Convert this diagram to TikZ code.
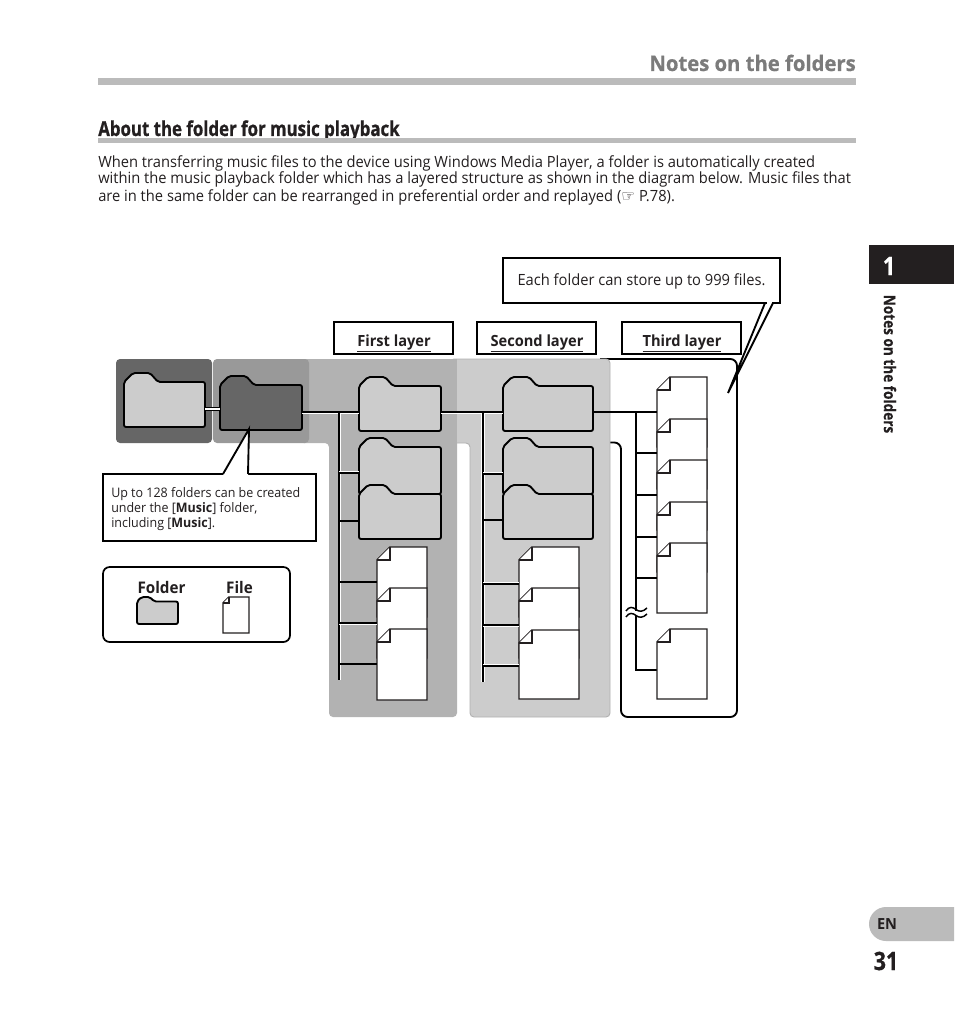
\documentclass[tikz,border=0pt]{standalone}
\usepackage{fontspec}
\usetikzlibrary{fit,calc}
\setmainfont[FakeStretch=0.95]{Open Sans}
\newfontfamily\condfont[FakeStretch=0.85,FakeBold=0.5]{Open Sans Bold}
\newfontfamily\titlefont[FakeStretch=0.95,FakeBold=0.6]{Open Sans Bold}
\newfontfamily\headfont[FakeStretch=0.82,FakeBold=0.8]{Open Sans Bold}
\newfontfamily\symfont{DejaVu Sans}
\definecolor{gA}{HTML}{666666}
\definecolor{gB}{HTML}{999999}
\definecolor{gC}{HTML}{B2B2B2}
\definecolor{gD}{HTML}{CCCCCC}
\definecolor{gR}{HTML}{BBBBBB}
\definecolor{gT}{HTML}{7B7B7B}
\definecolor{ink}{HTML}{231F20}
\tikzset{
  x=0.75pt,y=-0.75pt,
  folderline/.style={draw=black,line width=1.4pt,rounded corners=1.5pt,line join=round},
  fileline/.style={draw=ink,line width=1.1pt,fill=white,line join=miter},
  conn/.style={draw=black,line width=1.4pt},
  connwhite/.style={draw=white,line width=0.8pt},
  bodytext/.style={anchor=base west,inner sep=0pt,font=\fontsize{11.6}{13}\selectfont,text=ink},
  smalltext/.style={anchor=base west,inner sep=0pt,font=\fontsize{9.85}{11}\selectfont,text=ink},
  layertext/.style={anchor=base,inner sep=0pt,font=\fontsize{11.55}{13}\selectfont\bfseries,text=ink},
  legendtext/.style={anchor=base,inner sep=0pt,font=\fontsize{12}{13}\selectfont\bfseries,text=ink},
  hidden/.style={inner sep=0pt,outer sep=0pt},
  framed/.style={hidden,draw=black,line width=1.5pt,fill=white},
}
% name,x1,y1,x2,y2,fill,tab scale
\newcommand{\folderbox}[7]{%
  \node[hidden,fit={(#2,#3)(#4,#5)}] (#1) {};
  \path[folderline,fill=#6] (#2,#5) -- (#2,{#3+9*#7}) -- ({#2+9*#7},#3) -- ({#2+26*#7},#3)
     -- ({#2+34*#7},{#3+9*#7}) -- (#4,{#3+9*#7}) -- (#4,#5) -- cycle;
}
% name,x1,y1,x2,y2,fold
\newcommand{\filebox}[6]{%
  \node[hidden,fit={(#2,#3)(#4,#5)}] (#1) {};
  \path[fileline] (#2,{#3+#6}) -- ({#2+#6},#3) -- (#4,#3) -- (#4,#5) -- (#2,#5) -- cycle;
  \path[fileline] ({#2+#6},#3) -- ({#2+#6},{#3+#6}) -- (#2,{#3+#6});
}
% spine coordinate, y, target node, white offset
\newcommand{\branch}[4]{%
  \path[connwhite] (#1 |- 0,{#2+#4}) -- (#3.west |- 0,{#2+#4});
  \path[conn] (#1 |- 0,#2) -- (#3.west |- 0,#2);
}
\begin{document}
\begin{tikzpicture}
\useasboundingbox (0,0) rectangle (954,1020);
\fill[white] (0,0) rectangle (954,1020);
% header
\node[anchor=base east,inner sep=0pt,text=gT,font=\fontsize{16}{18}\titlefont] (title) at (856,71) {Notes on the folders};
\fill[gR] (98,78.5) rectangle (856,85);
\node[anchor=base west,inner sep=0pt,text=ink,font=\fontsize{15.4}{18}\headfont] (head) at (98,136) {About the folder for music playback};
\fill[gR] (98,138) rectangle (856,143);
\node[bodytext] (l1) at (98,167) {When transferring music files to the device using Windows Media Player, a folder is automatically created};
\node[bodytext] (l2) at (98,184) {within the music playback folder which has a layered structure as shown in the diagram below. Music files that};
\node[bodytext] (l3) at (98,201) {are in the same folder can be rearranged in preferential order and replayed ({\symfont\char"261E} P.78).};
% right tabs
\fill[ink] (869,245) rectangle (954,284);
\node[text=white,font=\fontsize{19}{20}\condfont,inner sep=0pt] (tabno) at (889,266) {1};
\node[rotate=-90,text=ink,font=\fontsize{12}{13}\condfont,inner sep=0pt] (tabtext) at (890,364) {Notes on the folders};
\path[fill=gR] (954,907) -- (886,907) .. controls (876.6,907) and (869,914.6) .. (869,924) .. controls (869,933.4) and (876.6,941) .. (886,941) -- (954,941) -- cycle;
\node[text=ink,font=\fontsize{11.5}{12}\selectfont\bfseries,inner sep=0pt] (en) at (887,924) {EN};
\node[text=ink,font=\fontsize{19}{20}\condfont,inner sep=0pt] (page) at (886,961) {31};
% backgrounds
\fill[gA,rounded corners=3pt] (116,359) rectangle (212,443);
\fill[gC,rounded corners=3pt] (300,359) -- (457,359) -- (457,717) -- (329,717) -- (329,443) -- (300,443) -- cycle;
\fill[gB,rounded corners=3pt] (213,359) rectangle (309,443);
\draw[black,line width=1.4pt,rounded corners=5pt,fill=white] (600,359) -- (737,359) -- (737,717) -- (621,717) -- (621,442.5) -- (600,442.5);
\path[fill=gD,draw=gC,line width=0.7pt,rounded corners=3pt] (450,359) -- (610,359) -- (610,717) -- (470,717) -- (470,443) -- (450,443) -- cycle;
\fill[gC] (449.5,358.5) rectangle (457,445);
% folder / file nodes
\folderbox{root}{124}{373}{205}{427}{gD}{1}
\folderbox{music}{220}{376}{302}{430}{gA}{1}
\path[conn,line width=3pt] (root.east |- 0,409) -- (music.west |- 0,409);
\path[connwhite,line width=1.1pt] (root.east |- 0,409) -- (music.west |- 0,409);
% spines
\coordinate (sa) at (339,412);
\coordinate (sb) at (483,412);
\coordinate (sc) at (636,412);
\coordinate (sa2) at (339,680);
\coordinate (sb2) at (483,682);
\coordinate (sc2) at (636,670);
\folderbox{fa1}{359}{377}{441}{431}{gD}{1}
\folderbox{fb1}{503}{377}{593}{431}{gD}{1}
\filebox{fc1}{657}{377}{707}{447}{13}
% main horizontal connectors
\path[connwhite] (music.east |- 0,413.5) -- (fa1.west |- 0,413.5);
\path[conn] (music.east |- 0,412) -- (fa1.west |- 0,412);
\path[connwhite] (fa1.east |- 0,413.5) -- (fb1.west |- 0,413.5);
\path[conn] (fa1.east |- 0,412) -- (fb1.west |- 0,412);
\path[conn] (fb1.east |- 0,412) -- (fc1.west |- 0,412);
% first layer
\path[connwhite] ($(sa)+(1.5,2)$) -- ($(sa2)+(1.5,0)$);
\path[conn] (sa) -- (sa2);
\folderbox{fa2}{359}{438}{441}{494}{gD}{1}
\folderbox{fa3}{359}{485}{441}{539}{gD}{1}
\filebox{fa4}{377}{547}{427}{617}{13}
\filebox{fa5}{377}{588}{427}{658}{13}
\filebox{fa6}{377}{629}{427}{700}{13}
\branch{sa}{473}{fa2}{-1.5}
\branch{sa}{521}{fa3}{0}
\branch{sa}{582}{fa4}{0}
\branch{sa}{623}{fa5}{1.5}
\branch{sa}{664}{fa6}{0}
% second layer
\path[connwhite] ($(sb)+(-1.5,2)$) -- ($(sb2)+(-1.5,0)$);
\path[connwhite] ($(sb)+(1.5,2)$) -- ($(sb2)+(1.5,0)$);
\path[conn] (sb) -- (sb2);
\folderbox{fb2}{503}{438}{593}{494}{gD}{1}
\folderbox{fb3}{503}{485}{593}{539}{gD}{1}
\filebox{fb4}{519}{547}{579}{617}{13}
\filebox{fb5}{519}{588}{579}{658}{13}
\filebox{fb6}{519}{630}{579}{699}{13}
\branch{sb}{474}{fb2}{-1.5}
\branch{sb}{520}{fb3}{0}
\branch{sb}{584}{fb4}{-1.5}
\branch{sb}{625}{fb5}{1.5}
\branch{sb}{666}{fb6}{-1.5}
% third layer
\path[conn,line join=miter] (sc) -- (sc2) -- (sc2 -| 657,0);
\filebox{fc2}{657}{419}{707}{489}{13}
\filebox{fc3}{657}{460}{707}{530}{13}
\filebox{fc4}{657}{502}{707}{572}{13}
\filebox{fc5}{657}{543}{707}{613}{13}
\filebox{fc6}{657}{629}{707}{699}{13}
\branch{sc}{453}{fc2}{0}
\branch{sc}{495}{fc3}{0}
\branch{sc}{537}{fc4}{0}
\branch{sc}{578}{fc5}{0}
% wave break
\fill[white] (628,611) rectangle (644,615);
\draw[black,line width=1.1pt] (626,611) .. controls (629,606) and (633,607) .. (636,609.5) .. controls (639,612) and (643,612) .. (647,608);
\draw[black,line width=1.1pt] (626,617) .. controls (629,612) and (633,613) .. (636,615.5) .. controls (639,618) and (643,618) .. (647,614);
% layer labels
\node[framed,fit={(334,322)(453,354)}] (L1) {};
\node[framed,fit={(477,322)(596,354)}] (L2) {};
\node[framed,fit={(622,322)(741,354)}] (L3) {};
\node[layertext] (t1) at (394,346) {\underline{First layer}};
\node[layertext] (t2) at (537,346) {\underline{Second layer}};
\node[layertext] (t3) at (682,346) {\underline{Third layer}};
% callouts
\coordinate (tipA) at (728,393);
\coordinate (tipB) at (249,429);
\node[framed,fit={(503,258)(780,303)}] (calloutA) {};
\node[anchor=base,inner sep=0pt,font=\fontsize{11.6}{13}\selectfont,text=ink] (ta) at (calloutA.center |- 0,285) {Each folder can store up to 999 files.};
\fill[white] (766.5,301) rectangle (772,305);
\draw[black,line width=1.4pt,line join=miter] (765,303) -- (tipA) -- (773,303);
\node[framed,fit={(103,474)(316,541)}] (calloutB) {};
\path[fill=white] (223,475) -- (tipB) -- (248,475) -- cycle;
\draw[black,line width=1.4pt,line join=miter] (223,474) -- (tipB) -- (248,474);
\fill[white] (224.5,472) rectangle (247,476);
\node[smalltext] (tb1) at (111,497) {Up to 128 folders can be created};
\node[smalltext] (tb2) at (111,512) {under the [\textbf{Music}] folder,};
\node[smalltext] (tb3) at (111,527) {including [\textbf{Music}].};
% legend
\draw[black,line width=1.3pt,rounded corners=5pt,fill=white] (103,567) rectangle (290,642);
\node[legendtext] (lf) at (161.5,593) {Folder};
\node[legendtext] (lg) at (239.5,593) {File};
\folderbox{legF}{137}{597}{178}{624}{gD}{0.5}
\filebox{legG}{223}{597}{249}{633}{6}
\end{tikzpicture}
\end{document}
